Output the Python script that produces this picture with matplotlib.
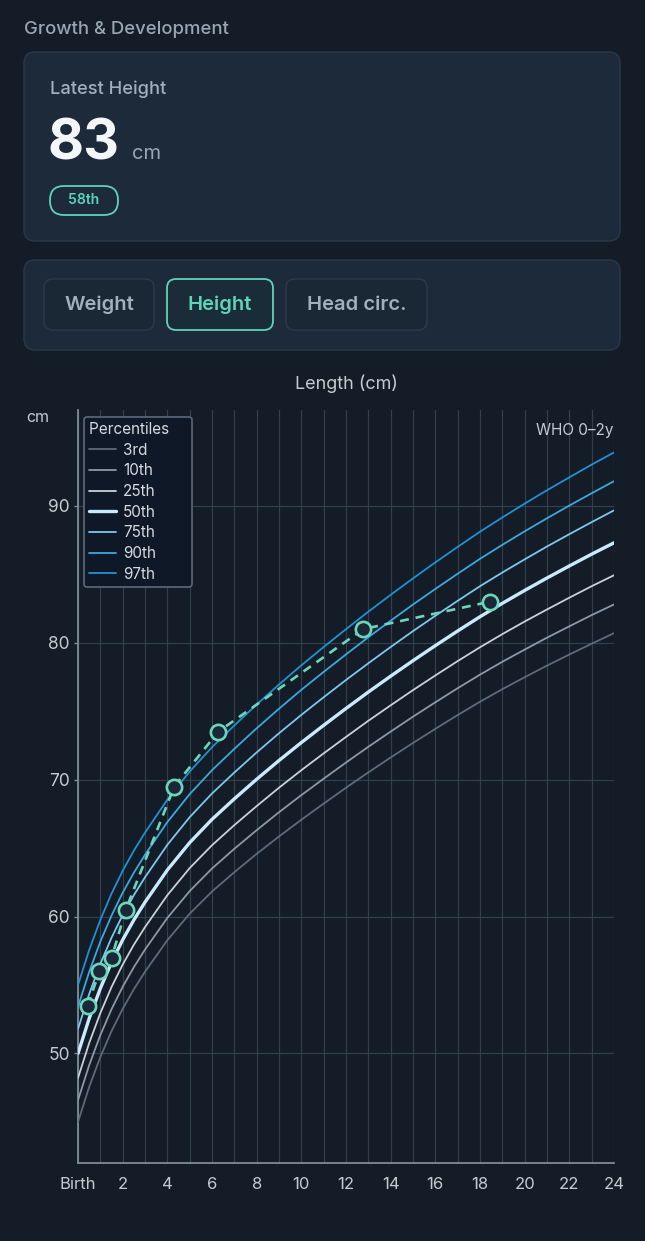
import matplotlib
matplotlib.use("Agg")
import matplotlib.pyplot as plt
from matplotlib.patches import FancyBboxPatch
from matplotlib.transforms import Affine2D

plt.rcParams['font.family'] = ['Inter', 'DejaVu Sans']

W, H = 645, 1241

# WHO reference curves (length, cm)
months = [0, 0.5, 1, 1.5, 2, 2.5, 3, 4, 5, 6, 7, 8, 9, 10, 11, 12,
          13, 14, 15, 16, 17, 18, 19, 20, 21, 22, 23, 24]
p3 = [45.00, 47.55, 49.74, 51.63, 53.26, 54.69, 55.97, 58.27, 60.21, 61.83, 63.24, 64.58, 65.85, 67.07,
      68.25, 69.41, 70.53, 71.62, 72.68, 73.71, 74.72, 75.69, 76.61, 77.48, 78.33, 79.14, 79.93, 80.70]
p10 = [46.59, 49.14, 51.34, 53.23, 54.87, 56.30, 57.59, 59.90, 61.86, 63.51, 64.95, 66.31, 67.62, 68.87,
       70.07, 71.25, 72.40, 73.51, 74.60, 75.65, 76.68, 77.67, 78.61, 79.50, 80.37, 81.20, 82.02, 82.80]
p25 = [48.21, 50.76, 52.95, 54.85, 56.49, 57.94, 59.23, 61.56, 63.54, 65.21, 66.68, 68.07, 69.41, 70.69,
       71.92, 73.12, 74.30, 75.43, 76.54, 77.61, 78.66, 79.67, 80.63, 81.55, 82.43, 83.29, 84.13, 84.93]
p50 = [50.00, 52.55, 54.75, 56.65, 58.30, 59.75, 61.05, 63.40, 65.40, 67.10, 68.60, 70.03, 71.40, 72.71,
       73.97, 75.20, 76.40, 77.56, 78.69, 79.79, 80.86, 81.90, 82.88, 83.82, 84.73, 85.61, 86.47, 87.30]
p75 = [51.79, 54.34, 56.55, 58.45, 60.11, 61.56, 62.87, 65.24, 67.26, 68.99, 70.52, 71.99, 73.39, 74.73,
       76.02, 77.28, 78.50, 79.69, 80.85, 81.97, 83.06, 84.13, 85.13, 86.09, 87.03, 87.93, 88.81, 89.67]
p90 = [53.41, 55.96, 58.17, 60.07, 61.74, 63.20, 64.51, 66.90, 68.94, 70.69, 72.25, 73.75, 75.18, 76.56,
       77.87, 79.15, 80.40, 81.61, 82.79, 83.93, 85.04, 86.13, 87.15, 88.14, 89.09, 90.02, 90.92, 91.80]
p97 = [55.00, 57.55, 59.76, 61.67, 63.34, 64.81, 66.13, 68.54, 70.59, 72.37, 73.96, 75.49, 76.95, 78.35,
       79.69, 80.99, 82.27, 83.50, 84.70, 85.87, 87.00, 88.11, 89.15, 90.16, 91.14, 92.08, 93.01, 93.90]

pct_labels = ['3rd', '10th', '25th', '50th', '75th', '90th', '97th']
pct_colors = ['#5f6b7a', '#8d99a6', '#c9d1d9', '#c8eafa', '#7cc8ee', '#3ca8de', '#2092d2']

# child measurements
child_months = [0.43, 0.96, 1.51, 2.14, 4.31, 6.28, 12.78, 18.45]
child_height = [53.5, 56.0, 57.0, 60.5, 69.5, 73.5, 81.0, 83.0]

x_ticks = list(range(0, 25, 2))
x_labels = ['Birth'] + [str(m) for m in x_ticks[1:]]
y_ticks = [50, 60, 70, 80, 90]

BG = '#131c27'
CARD = '#1c2a3a'
CARD_EDGE = '#2b3948'
TEAL = '#5fd3b8'
MUTED = '#a3afbb'
TICK = '#c3cbd3'

fig = plt.figure(figsize=(W / 100, H / 100), dpi=100, facecolor=BG)
px = Affine2D().scale(1 / W, -1 / H).translate(0, 1) + fig.transFigure


def box(x, y, w, h, r, fc, ec, lw=1.0):
    p = FancyBboxPatch((x, y), w, h, boxstyle=f"round,pad=0,rounding_size={r}",
                       transform=px, facecolor=fc, edgecolor=ec, linewidth=lw)
    fig.add_artist(p)


def txt(x, y, s, **kw):
    fig.text(x, y, s, transform=px, **kw)


# header
txt(24, 30, 'Growth & Development', color='#9aa6b2', fontsize=13.3, fontweight='medium', va='center')

box(24, 52, 596, 189, 11, CARD, CARD_EDGE)
txt(50, 89, 'Latest Height', color=MUTED, fontsize=13.2, fontweight='medium', va='center')
txt(48, 159, '83', color='#f4f7fa', fontsize=40, fontweight='bold', va='baseline')
txt(132, 159, 'cm', color='#9aa7b4', fontsize=14.5, va='baseline')
box(50, 186, 68, 29, 14, CARD, TEAL, lw=1.3)
txt(84, 200.5, '58th', color=TEAL, fontsize=10, fontweight='semibold', ha='center', va='center')

# tabs
box(24, 260, 596, 90, 11, CARD, CARD_EDGE)
box(44, 279, 110, 51, 9, '#1a2735', '#2c3a49')
box(167, 279, 106, 51, 9, '#1b2c39', TEAL, lw=1.3)
box(286, 279, 141, 51, 9, '#1a2735', '#2c3a49')
txt(99, 305, 'Weight', color=MUTED, fontsize=14.5, fontweight='semibold', ha='center', va='center')
txt(220, 305, 'Height', color=TEAL, fontsize=14.5, fontweight='semibold', ha='center', va='center')
txt(356.5, 305, 'Head circ.', color=MUTED, fontsize=14.5, fontweight='semibold', ha='center', va='center')

# chart
txt(346, 384, 'Length (cm)', color=TICK, fontsize=13, ha='center', va='center')
txt(38, 417, 'cm', color=TICK, fontsize=11.5, ha='center', va='center')

ax = fig.add_axes([78 / W, 1 - 1163 / H, 536 / W, 753 / H], facecolor=BG)

series = [p3, p10, p25, p50, p75, p90, p97]
for vals, lab, col in zip(series, pct_labels, pct_colors):
    lw = 2.4 if lab == '50th' else 1.3
    ax.plot(months, vals, color=col, linewidth=lw, label=lab, zorder=3,
            solid_capstyle='round', solid_joinstyle='round')

ax.plot(child_months, child_height, color='#6cd6bb', linestyle=(0, (3.4, 2.6)), linewidth=1.9,
        marker='o', markersize=11, markerfacecolor='#1c2837', markeredgecolor='#6cd6bb',
        markeredgewidth=1.9, zorder=5, label='_nolegend_')

ax.set_xlim(0, 24)
ax.set_ylim(42, 97)
ax.set_xticks(x_ticks)
ax.set_xticklabels(x_labels)
ax.set_xticks(range(1, 24, 2), minor=True)
ax.set_yticks(y_ticks)

ax.grid(True, which='both', axis='x', color='#323f4d', linewidth=0.9, zorder=0)
ax.grid(True, which='major', axis='y', color='#323f4d', linewidth=0.9, zorder=0)
ax.set_axisbelow(True)

for s in ['top', 'right']:
    ax.spines[s].set_visible(False)
for s in ['left', 'bottom']:
    ax.spines[s].set_color('#7f8c99')
    ax.spines[s].set_linewidth(1.3)

ax.tick_params(axis='x', which='both', length=0, pad=10, labelsize=12, labelcolor=TICK)
ax.tick_params(axis='y', length=3, width=1, color='#7f8c99', pad=3, labelsize=12.5, labelcolor=TICK)

ax.text(1.0, 0.983, 'WHO 0\u20132y', transform=ax.transAxes, ha='right', va='top',
        color=TICK, fontsize=11)

leg = ax.legend(loc='upper left', bbox_to_anchor=(0.011, 0.991), borderaxespad=0,
                title='Percentiles    ', alignment='left', fontsize=11, title_fontsize=11,
                frameon=True, fancybox=True, handlelength=1.75, handletextpad=0.45,
                labelspacing=0.37, borderpad=0.35, labelcolor='#d3dae1')
leg.get_title().set_color('#d3dae1')
frame = leg.get_frame()
frame.set_facecolor('#0f1826')
frame.set_edgecolor('#5b6979')
frame.set_alpha(1)
frame.set_linewidth(1.2)

fig.savefig('out.png', dpi=100, facecolor=BG)
